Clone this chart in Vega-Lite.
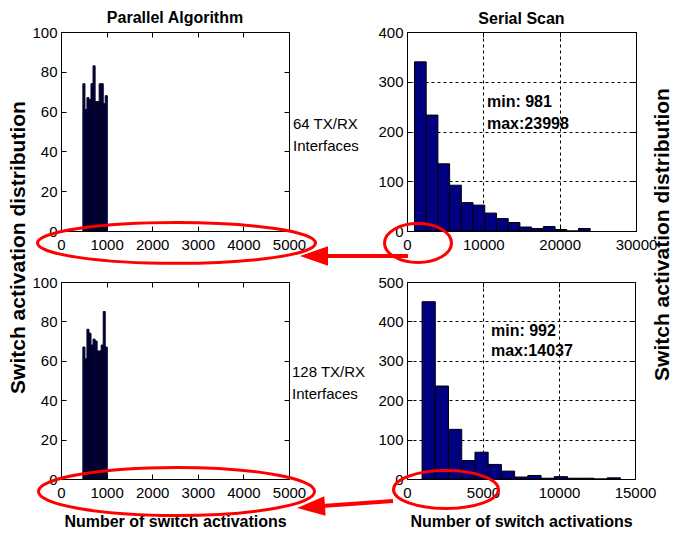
{
  "$schema": "https://vega.github.io/schema/vega-lite/v6.json",
  "background": "white",
  "padding": {"left": 6, "top": 9, "right": 2, "bottom": 2},
  "config": {
    "font": "Liberation Sans",
    "view": {"stroke": "#000", "strokeWidth": 1},
    "axis": {
      "domain": false,
      "grid": false,
      "labelFont": "Liberation Sans",
      "labelFontSize": 15,
      "labelColor": "#000",
      "labelFlush": false,
      "labelOverlap": false,
      "labelBound": false,
      "tickColor": "#000",
      "tickSize": -5,
      "tickCount": 12,
      "titleFont": "Liberation Sans",
      "titleColor": "#000",
      "titleFontWeight": "bold"
    },
    "axisX": {"labelPadding": 11},
    "axisY": {"labelPadding": 9},
    "title": {"font": "Liberation Sans", "fontSize": 16, "fontWeight": "bold", "color": "#000", "anchor": "middle", "offset": -1}
  },
  "datasets": {
    "par64": [
      {"from": 480, "to": 525, "count": 74},
      {"from": 525, "to": 569, "count": 61},
      {"from": 569, "to": 614, "count": 67},
      {"from": 614, "to": 658, "count": 66},
      {"from": 658, "to": 703, "count": 74},
      {"from": 703, "to": 748, "count": 83},
      {"from": 748, "to": 792, "count": 65},
      {"from": 792, "to": 837, "count": 65},
      {"from": 837, "to": 881, "count": 74},
      {"from": 881, "to": 926, "count": 74},
      {"from": 926, "to": 970, "count": 64},
      {"from": 970, "to": 1015, "count": 68}
    ],
    "par128": [
      {"from": 480, "to": 525, "count": 67},
      {"from": 525, "to": 569, "count": 61},
      {"from": 569, "to": 614, "count": 76},
      {"from": 614, "to": 658, "count": 74},
      {"from": 658, "to": 703, "count": 68},
      {"from": 703, "to": 748, "count": 71},
      {"from": 748, "to": 792, "count": 70},
      {"from": 792, "to": 837, "count": 65},
      {"from": 837, "to": 881, "count": 65},
      {"from": 881, "to": 926, "count": 68},
      {"from": 926, "to": 970, "count": 85},
      {"from": 970, "to": 1015, "count": 67}
    ],
    "ser64": [
      {"from": 981, "to": 2516, "count": 340},
      {"from": 2516, "to": 4050, "count": 233},
      {"from": 4050, "to": 5585, "count": 135},
      {"from": 5585, "to": 7119, "count": 92},
      {"from": 7119, "to": 8654, "count": 57},
      {"from": 8654, "to": 10188, "count": 52},
      {"from": 10188, "to": 11723, "count": 36},
      {"from": 11723, "to": 13257, "count": 25},
      {"from": 13257, "to": 14792, "count": 17},
      {"from": 14792, "to": 16326, "count": 8},
      {"from": 16326, "to": 17861, "count": 5},
      {"from": 17861, "to": 19395, "count": 9},
      {"from": 19395, "to": 20929, "count": 3},
      {"from": 20929, "to": 22464, "count": 0},
      {"from": 22464, "to": 23998, "count": 5}
    ],
    "ser128": [
      {"from": 992, "to": 1862, "count": 450},
      {"from": 1862, "to": 2731, "count": 236},
      {"from": 2731, "to": 3601, "count": 126},
      {"from": 3601, "to": 4471, "count": 47},
      {"from": 4471, "to": 5340, "count": 68},
      {"from": 5340, "to": 6210, "count": 37},
      {"from": 6210, "to": 7080, "count": 20},
      {"from": 7080, "to": 7949, "count": 5},
      {"from": 7949, "to": 8819, "count": 9},
      {"from": 8819, "to": 9689, "count": 2},
      {"from": 9689, "to": 10558, "count": 6},
      {"from": 10558, "to": 11428, "count": 2},
      {"from": 11428, "to": 12298, "count": 2},
      {"from": 12298, "to": 13167, "count": 0},
      {"from": 13167, "to": 14037, "count": 3}
    ]
  },
  "columns": 2,
  "spacing": {"row": 51, "column": 118},
  "bounds": "flush",
  "concat": [
    {
      "width": 228,
      "height": 199,
      "title": {"text": "Parallel Algorithm"},
      "resolve": {"axis": {"x": "independent", "y": "independent"}},
      "layer": [
        {
          "data": {"name": "par64"},
          "mark": {"type": "rect", "fill": "#000080", "stroke": "#000", "strokeWidth": 1},
          "encoding": {
            "x": {"field": "from", "type": "quantitative", "scale": {"domain": [0, 5000], "nice": false, "zero": false}, "axis": {"values": [0, 1000, 2000, 3000, 4000, 5000], "format": "d", "title": null}},
            "x2": {"field": "to"},
            "y": {"field": "count", "type": "quantitative", "scale": {"domain": [0, 100], "nice": false}, "axis": {"values": [0, 20, 40, 60, 80, 100], "format": "d", "title": "Switch activation distribution", "titleFontSize": 21, "titleAngle": 270, "titleX": -43, "titleY": 215, "titleBaseline": "middle", "titleAlign": "center"}},
            "y2": {"datum": 0}
          }
        },
        {
          "data": {"values": [{}]},
          "mark": {"type": "text", "align": "left", "baseline": "middle", "dx": 4, "fontSize": 15, "lineHeight": 22, "color": "#000", "text": ["64 TX/RX", "Interfaces"]},
          "encoding": {"x": {"datum": 5000, "type": "quantitative", "axis": null}, "y": {"datum": 53.8, "type": "quantitative", "axis": null}}
        },
        {
          "data": {"values": [{}]},
          "mark": {"type": "point", "shape": "M -1 0 C -1 -0.0812 -0.5523 -0.147 0 -0.147 C 0.5523 -0.147 1 -0.0812 1 0 C 1 0.0812 0.5523 0.147 0 0.147 C -0.5523 0.147 -1 0.0812 -1 0 Z", "size": 77284, "filled": false, "stroke": "#ff0000", "strokeWidth": 3, "opacity": 1},
          "encoding": {
            "x": {"datum": 2533, "type": "quantitative", "axis": {"orient": "top", "values": [0, 1000, 2000, 3000, 4000, 5000], "labels": false, "title": null}},
            "y": {"datum": -6.0, "type": "quantitative", "axis": {"orient": "right", "values": [0, 20, 40, 60, 80, 100], "labels": false, "title": null}}
          }
        }
      ]
    },
    {
      "width": 229,
      "height": 199,
      "title": {"text": "Serial Scan", "offset": -2},
      "resolve": {"axis": {"x": "independent", "y": "independent"}},
      "layer": [
        {
          "data": {"name": "ser64"},
          "mark": {"type": "rect", "fill": "#000080", "stroke": "#000", "strokeWidth": 1},
          "encoding": {
            "x": {"field": "from", "type": "quantitative", "scale": {"domain": [0, 30000], "nice": false, "zero": false}, "axis": {"values": [0, 10000, 20000, 30000], "format": "d", "title": null, "grid": true, "gridColor": "#000", "gridDash": [3, 3], "gridOpacity": 1}},
            "x2": {"field": "to"},
            "y": {"field": "count", "type": "quantitative", "scale": {"domain": [0, 400], "nice": false}, "axis": {"values": [0, 100, 200, 300, 400], "format": "d", "grid": true, "gridColor": "#000", "gridDash": [3, 3], "gridOpacity": 1, "title": "Switch activation distribution", "titleFontSize": 21, "titleAngle": 270, "titleX": 255, "titleY": 202, "titleBaseline": "middle", "titleAlign": "center"}},
            "y2": {"datum": 0}
          }
        },
        {
          "data": {"values": [{}]},
          "mark": {"type": "text", "align": "left", "baseline": "middle", "fontSize": 16, "fontWeight": "bold", "lineHeight": 22, "color": "#000", "text": ["min: 981", "max:23998"]},
          "encoding": {"x": {"datum": 10480, "type": "quantitative", "axis": null}, "y": {"datum": 260, "type": "quantitative", "axis": null}}
        },
        {
          "data": {"values": [{}]},
          "mark": {"type": "point", "shape": "M -1 0 C -1 -0.3203 -0.5523 -0.58 0 -0.58 C 0.5523 -0.58 1 -0.3203 1 0 C 1 0.3203 0.5523 0.58 0 0.58 C -0.5523 0.58 -1 0.3203 -1 0 Z", "size": 4489, "filled": false, "stroke": "#ff0000", "strokeWidth": 3, "opacity": 1},
          "encoding": {
            "x": {"datum": 1441, "type": "quantitative", "axis": {"orient": "top", "values": [0, 10000, 20000, 30000], "labels": false, "title": null}},
            "y": {"datum": -24.1, "type": "quantitative", "axis": {"orient": "right", "values": [0, 100, 200, 300, 400], "labels": false, "title": null}}
          }
        },
        {
          "data": {"values": [{}]},
          "mark": {"type": "rule", "stroke": "#ff0000", "strokeWidth": 4},
          "encoding": {"x": {"datum": -10742, "type": "quantitative", "axis": null}, "x2": {"datum": 131}, "y": {"datum": -50.2, "type": "quantitative", "axis": null}}
        },
        {
          "data": {"values": [{}]},
          "mark": {"type": "point", "shape": "M -1 0 L 1 -0.7 L 1 0.7 Z", "size": 784, "filled": true, "fill": "#ff0000", "strokeWidth": 0, "opacity": 1},
          "encoding": {"x": {"datum": -12183, "type": "quantitative", "axis": null}, "y": {"datum": -50.2, "type": "quantitative", "axis": null}}
        }
      ]
    },
    {
      "width": 228,
      "height": 197,
      "resolve": {"axis": {"x": "independent", "y": "independent"}},
      "layer": [
        {
          "data": {"name": "par128"},
          "mark": {"type": "rect", "fill": "#000080", "stroke": "#000", "strokeWidth": 1},
          "encoding": {
            "x": {"field": "from", "type": "quantitative", "scale": {"domain": [0, 5000], "nice": false, "zero": false}, "axis": {"values": [0, 1000, 2000, 3000, 4000, 5000], "format": "d", "title": "Number of switch activations", "titleFontSize": 16, "titleY": 42, "titleBaseline": "middle"}},
            "x2": {"field": "to"},
            "y": {"field": "count", "type": "quantitative", "scale": {"domain": [0, 100], "nice": false}, "axis": {"values": [0, 20, 40, 60, 80, 100], "format": "d", "title": null}},
            "y2": {"datum": 0}
          }
        },
        {
          "data": {"values": [{}]},
          "mark": {"type": "text", "align": "left", "baseline": "middle", "dx": 3, "fontSize": 15, "lineHeight": 22, "color": "#000", "text": ["128 TX/RX", "Interfaces"]},
          "encoding": {"x": {"datum": 5000, "type": "quantitative", "axis": null}, "y": {"datum": 54.3, "type": "quantitative", "axis": null}}
        },
        {
          "data": {"values": [{}]},
          "mark": {"type": "point", "shape": "M -1 0 C -1 -0.0961 -0.5523 -0.174 0 -0.174 C 0.5523 -0.174 1 -0.0961 1 0 C 1 0.0961 0.5523 0.174 0 0.174 C -0.5523 0.174 -1 0.0961 -1 0 Z", "size": 76176, "filled": false, "stroke": "#ff0000", "strokeWidth": 3, "opacity": 1},
          "encoding": {
            "x": {"datum": 2533, "type": "quantitative", "axis": {"orient": "top", "values": [0, 1000, 2000, 3000, 4000, 5000], "labels": false, "title": null}},
            "y": {"datum": -6.35, "type": "quantitative", "axis": {"orient": "right", "values": [0, 20, 40, 60, 80, 100], "labels": false, "title": null}}
          }
        }
      ]
    },
    {
      "width": 228,
      "height": 197,
      "resolve": {"axis": {"x": "independent", "y": "independent"}},
      "layer": [
        {
          "data": {"name": "ser128"},
          "mark": {"type": "rect", "fill": "#000080", "stroke": "#000", "strokeWidth": 1},
          "encoding": {
            "x": {"field": "from", "type": "quantitative", "scale": {"domain": [0, 15000], "nice": false, "zero": false}, "axis": {"values": [0, 5000, 10000, 15000], "format": "d", "grid": true, "gridColor": "#000", "gridDash": [3, 3], "gridOpacity": 1, "title": "Number of switch activations", "titleFontSize": 16, "titleY": 42, "titleBaseline": "middle"}},
            "x2": {"field": "to"},
            "y": {"field": "count", "type": "quantitative", "scale": {"domain": [0, 500], "nice": false}, "axis": {"values": [0, 100, 200, 300, 400, 500], "format": "d", "grid": true, "gridColor": "#000", "gridDash": [3, 3], "gridOpacity": 1, "title": null}},
            "y2": {"datum": 0}
          }
        },
        {
          "data": {"values": [{}]},
          "mark": {"type": "text", "align": "left", "baseline": "middle", "fontSize": 16, "fontWeight": "bold", "lineHeight": 20, "color": "#000", "text": ["min: 992", "max:14037"]},
          "encoding": {"x": {"datum": 5526, "type": "quantitative", "axis": null}, "y": {"datum": 375.6, "type": "quantitative", "axis": null}}
        },
        {
          "data": {"values": [{}]},
          "mark": {"type": "point", "shape": "M -1 0 C -1 -0.2 -0.5523 -0.362 0 -0.362 C 0.5523 -0.362 1 -0.2 1 0 C 1 0.2 0.5523 0.362 0 0.362 C -0.5523 0.362 -1 0.2 -1 0 Z", "size": 11025, "filled": false, "stroke": "#ff0000", "strokeWidth": 3, "opacity": 1},
          "encoding": {
            "x": {"datum": 2566, "type": "quantitative", "axis": {"orient": "top", "values": [0, 5000, 10000, 15000], "labels": false, "title": null}},
            "y": {"datum": -26.6, "type": "quantitative", "axis": {"orient": "right", "values": [0, 100, 200, 300, 400, 500], "labels": false, "title": null}}
          }
        },
        {
          "data": {"values": [{}]},
          "mark": {"type": "rule", "stroke": "#ff0000", "strokeWidth": 4},
          "encoding": {"x": {"datum": -921, "type": "quantitative", "axis": null}, "y": {"datum": -55.8, "type": "quantitative", "axis": null}, "x2": {"datum": -5592}, "y2": {"datum": -68.5}}
        },
        {
          "data": {"values": [{}]},
          "mark": {"type": "point", "shape": "M -1 0 L 1 -0.7 L 1 0.7 Z", "size": 784, "filled": true, "fill": "#ff0000", "strokeWidth": 0, "opacity": 1, "angle": -4},
          "encoding": {"x": {"datum": -6316, "type": "quantitative", "axis": null}, "y": {"datum": -71.1, "type": "quantitative", "axis": null}}
        }
      ]
    }
  ]
}
